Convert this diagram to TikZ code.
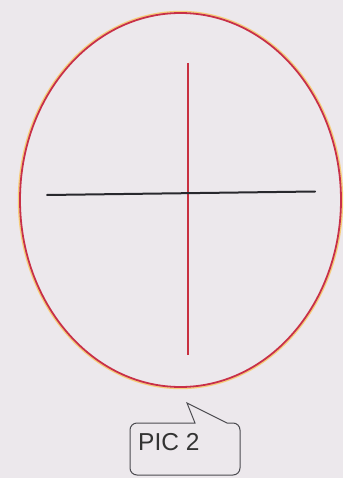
\documentclass[tikz,border=0pt]{standalone}
\usepackage{fontspec}
\setmainfont{Liberation Sans}
\definecolor{bg}{RGB}{236,232,236}
\definecolor{ringred}{RGB}{200,48,72}
\definecolor{ringyellow}{RGB}{246,205,120}
\definecolor{linered}{RGB}{200,48,64}
\definecolor{lineblack}{RGB}{40,40,45}
\definecolor{calloutgrey}{RGB}{75,75,80}
\begin{document}
\begin{tikzpicture}[x=1pt,y=-1pt,
  ring/.style={draw=ringred,line width=1.8pt},
  ringglow/.style={draw=ringyellow,line width=1.4pt},
  axisv/.style={draw=linered,line width=1.6pt},
  axish/.style={draw=lineblack,line width=2pt,line cap=round},
  callout/.style={draw=calloutgrey,line width=1pt,fill=bg},
  lbl/.style={font=\fontsize{24.5}{26}\selectfont,text=black!80,inner sep=0pt}]
\fill[bg] (0,0) rectangle (343,478);
\useasboundingbox (0,0) rectangle (343,478);
\coordinate (c) at (180.5,200);
\draw[ringglow] (c) ellipse [x radius=162, y radius=188.5];
\draw[ring] (c) ellipse [x radius=160.5, y radius=187];
\coordinate (vt) at (188,63);
\coordinate (vb) at (188,355);
\coordinate (hl) at (47,195);
\coordinate (hr) at (315,191.5);
\draw[axisv] (vt) -- (vb);
\draw[axish] (hl) -- (hr);
\coordinate (tip) at (187,403);
\draw[callout] (165,423) -- (195,423) -- (tip) -- (227,423)
  [rounded corners=7pt] -- (240,423) -- (240,475) -- (130,475) -- (130,423) -- (165,423);
\node[lbl,anchor=west] (pic) at (138,442) {PIC 2};
\end{tikzpicture}
\end{document}
